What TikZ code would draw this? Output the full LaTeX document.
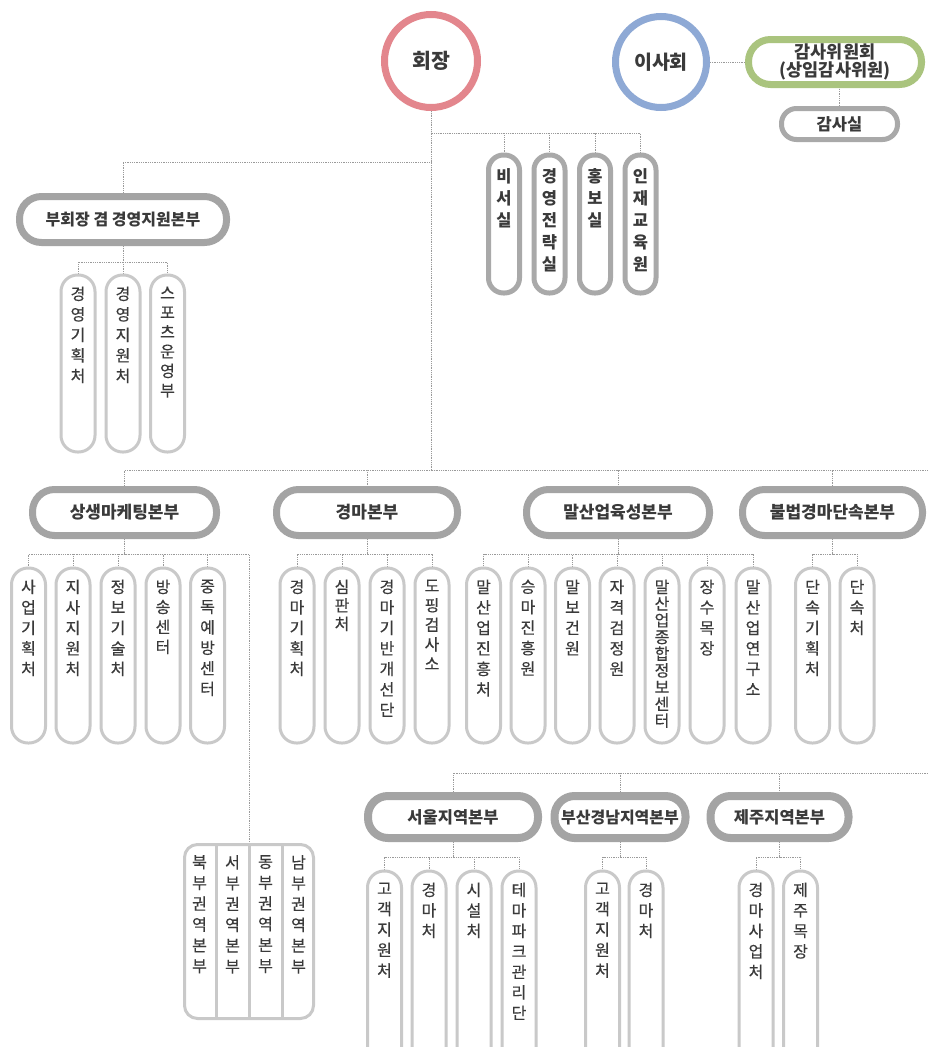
\documentclass[tikz,border=0pt]{standalone}
\usepackage{fontspec}
\newfontfamily\kr{Noto Sans CJK KR}
\newfontfamily\krm[FakeBold=0.4]{Noto Sans CJK KR}
\usetikzlibrary{calc,backgrounds}

\definecolor{ceoRed}{HTML}{E3868D}
\definecolor{boardBlue}{HTML}{8EA9D5}
\definecolor{auditGreen}{HTML}{AAC47E}
\definecolor{headGray}{HTML}{A4A4A4}
\definecolor{pillGray}{HTML}{A9A9A9}
\definecolor{leafGray}{HTML}{C9C9C9}
\definecolor{lineGray}{HTML}{9A9A9A}
\definecolor{ink}{HTML}{3A3A3A}

\tikzset{
  conn/.style={draw=lineGray, line width=0.8pt, dash pattern=on 0.9pt off 0.9pt},
  htxt/.style={text=ink, font=\kr\bfseries\fontsize{17}{19}\selectfont},
  ceo/.style={circle, draw=ceoRed, line width=7pt, fill=white, minimum size=93pt, inner sep=0pt, text=ink, font=\kr\bfseries\fontsize{20.5}{23}\selectfont},
  board/.style={circle, draw=boardBlue, line width=7pt, fill=white, minimum size=91pt, inner sep=0pt, text=ink, font=\kr\bfseries\fontsize{19.5}{22}\selectfont},
  audit/.style={rectangle, draw=auditGreen, line width=7pt, fill=white, rounded corners=22pt, minimum width=173pt, minimum height=45pt, inner sep=0pt, align=center, text=ink, font=\kr\bfseries\fontsize{17.5}{18}\selectfont},
  office/.style={rectangle, draw=pillGray, line width=5pt, fill=white, rounded corners=15pt, minimum width=116pt, minimum height=31pt, inner sep=0pt, htxt, font=\kr\bfseries\fontsize{16.5}{18}\selectfont},
  head/.style={rectangle, draw=headGray, line width=7pt, fill=white, rounded corners=22pt, minimum height=46pt, inner sep=0pt, htxt},
  region/.style={rectangle, draw=headGray, line width=8pt, fill=white, rounded corners=20pt, minimum height=42pt, inner sep=0pt, htxt, font=\kr\bfseries\fontsize{16.5}{18}\selectfont},
  pill/.style={rectangle, draw=pillGray, line width=5pt, fill=white, rounded corners=15pt, minimum width=31pt, minimum height=138pt, inner sep=0pt, anchor=north},
  leaf/.style={rectangle, draw=leafGray, line width=3pt, fill=white, rounded corners=16.5pt, minimum width=34pt, minimum height=175pt, inner sep=0pt, anchor=north},
  leafA/.style={leaf, minimum height=177pt},
  leafR/.style={leaf, minimum height=200pt},
  vtxt/.style={anchor=north, align=center, inner sep=0pt, text=ink, font=\krm\fontsize{16}{20.5}\selectfont},
  vbold/.style={anchor=north, align=center, inner sep=0pt, text=ink, font=\kr\bfseries\fontsize{16.5}{22}\selectfont},
}

% vertical pill: style, name, x, north y, text style, text
\newcommand\colbox[6]{%
  \node[#1] (#2) at (#3,#4) {};
  \node[#5] (#2-t) at ([yshift=-13pt]#2.north) {#6};}

\begin{document}
\begin{tikzpicture}[x=1pt,y=-1pt]
\useasboundingbox (0,0) rectangle (928,1047);
\clip (0,0) rectangle (928,1047);

% bar levels
\coordinate (barA) at (0,133);
\coordinate (barB) at (0,162);
\coordinate (barM) at (0,470);
\coordinate (barVP) at (0,262);
\coordinate (barL) at (0,554);
\coordinate (barRC) at (0,857);
\coordinate (endM) at (928,470);
\coordinate (endR) at (928,773);

% top level
\node[ceo] (ceo) at (431,61) {회장};
\node[board] (board) at (661,62) {이사회};
\node[audit] (audit) at (835,62) {감사위원회\\(상임감사위원)};
\node[office] (aoff) at (839.5,124) {감사실};

% staff offices
\node[pill] (sec) at (504,152.5) {};
\node[vbold] (sec-t) at ([yshift=-16pt]sec.north) {비\\서\\실};
\node[pill] (strat) at (549.5,152.5) {};
\node[vbold] (strat-t) at ([yshift=-16pt]strat.north) {경\\영\\전\\략\\실};
\node[pill] (pr) at (595,152.5) {};
\node[vbold] (pr-t) at ([yshift=-16pt]pr.north) {홍\\보\\실};
\node[pill] (edu) at (640.5,152.5) {};
\node[vbold] (edu-t) at ([yshift=-16pt]edu.north) {인\\재\\교\\육\\원};

% vice chairman
\node[head, minimum width=207pt, font=\kr\bfseries\fontsize{16}{18}\selectfont] (vp) at (123,219.5) {부회장 겸 경영지원본부};
\colbox{leafA}{vp1}{78}{273.5}{vtxt}{경\\영\\기\\획\\처}
\colbox{leafA}{vp2}{123}{273.5}{vtxt}{경\\영\\지\\원\\처}
\colbox{leafA}{vp3}{167.5}{273.5}{vtxt, font=\krm\fontsize{16}{19.5}\selectfont}{스\\포\\츠\\운\\영\\부}

% divisions
\node[head, minimum width=184pt] (sm) at (124.5,512.5) {상생마케팅본부};
\node[head, minimum width=181pt] (km) at (367,512.5) {경마본부};
\node[head, minimum width=183pt] (ms) at (618,512.5) {말산업육성본부};
\node[head, minimum width=180pt] (ib) at (832.5,512.5) {불법경마단속본부};

\colbox{leaf}{sm1}{28.5}{566.5}{vtxt}{사\\업\\기\\획\\처}
\colbox{leaf}{sm2}{73}{566.5}{vtxt}{지\\사\\지\\원\\처}
\colbox{leaf}{sm3}{118}{566.5}{vtxt}{정\\보\\기\\술\\처}
\colbox{leaf}{sm4}{163}{566.5}{vtxt, font=\krm\fontsize{16}{20}\selectfont}{방\\송\\센\\터}
\colbox{leaf}{sm5}{207.5}{566.5}{vtxt}{중\\독\\예\\방\\센\\터}

\colbox{leaf}{km1}{297}{566.5}{vtxt}{경\\마\\기\\획\\처}
\colbox{leaf}{km2}{342}{566.5}{vtxt, font=\krm\fontsize{16}{18.5}\selectfont}{심\\판\\처}
\colbox{leaf}{km3}{387}{566.5}{vtxt}{경\\마\\기\\반\\개\\선\\단}
\colbox{leaf}{km4}{432}{566.5}{vtxt, font=\krm\fontsize{16}{19.5}\selectfont}{도\\핑\\검\\사\\소}

\colbox{leaf}{ms1}{483.5}{566.5}{vtxt}{말\\산\\업\\진\\흥\\처}
\colbox{leaf}{ms2}{528}{566.5}{vtxt}{승\\마\\진\\흥\\원}
\colbox{leaf}{ms3}{572.5}{566.5}{vtxt}{말\\보\\건\\원}
\colbox{leaf}{ms4}{617}{566.5}{vtxt}{자\\격\\검\\정\\원}
\colbox{leaf}{ms5}{662}{566.5}{vtxt, font=\krm\fontsize{16}{16.7}\selectfont}{말\\산\\업\\종\\합\\정\\보\\센\\터}
\colbox{leaf}{ms6}{707}{566.5}{vtxt}{장\\수\\목\\장}
\colbox{leaf}{ms7}{753}{566.5}{vtxt}{말\\산\\업\\연\\구\\소}

\colbox{leaf}{ib1}{812.5}{566.5}{vtxt}{단\\속\\기\\획\\처}
\colbox{leaf}{ib2}{857}{566.5}{vtxt}{단\\속\\처}

% regional headquarters under the marketing division
\node[rectangle, draw=leafGray, line width=3pt, fill=white, rounded corners=13pt, minimum width=129pt, minimum height=174pt, inner sep=0pt] (kw) at (249,931.5) {};
\foreach \k in {1,2,3}
  \draw[leafGray, line width=3pt] ($(kw.north west)!\k/4!(kw.north east)$) -- ($(kw.south west)!\k/4!(kw.south east)$);
\foreach \k/\t in {1/북,2/서,3/동,4/남}
  \node[vtxt, font=\krm\fontsize{16}{20.8}\selectfont] (kw\k) at ($(kw.north west)!{(2*\k-1)/8}!(kw.north east)+(0,12)$) {\t\\부\\권\\역\\본\\부};

% regional divisions
\node[region, minimum width=170pt] (seoul) at (453,817) {서울지역본부};
\node[region, minimum width=131pt, font=\kr\bfseries\fontsize{16}{18}\selectfont] (busan) at (620,817) {부산경남지역본부};
\node[region, minimum width=138pt] (jeju) at (779.5,817) {제주지역본부};

\colbox{leafR}{se1}{384.5}{869.5}{vtxt}{고\\객\\지\\원\\처}
\colbox{leafR}{se2}{429}{869.5}{vtxt}{경\\마\\처}
\colbox{leafR}{se3}{474}{869.5}{vtxt}{시\\설\\처}
\colbox{leafR}{se4}{519}{869.5}{vtxt}{테\\마\\파\\크\\관\\리\\단}
\colbox{leafR}{bu1}{602.5}{869.5}{vtxt}{고\\객\\지\\원\\처}
\colbox{leafR}{bu2}{646}{869.5}{vtxt}{경\\마\\처}
\colbox{leafR}{je1}{756}{869.5}{vtxt}{경\\마\\사\\업\\처}
\colbox{leafR}{je2}{800.5}{869.5}{vtxt}{제\\주\\목\\장}

% connectors
\begin{scope}[on background layer]
  \fill[white] (0,0) rectangle (928,1047);
  \draw[conn] (board.east) -- (board.east -| audit.west);
  \draw[conn] (aoff.north) -- (aoff.north |- audit.south);
  \foreach \n in {sec,strat,pr,edu}
    \draw[conn] (ceo.south) |- (\n.north |- barA) -- (\n.north);
  \draw[conn] (ceo.south) |- (vp.north |- barB) -- (vp.north);
  \draw[conn] (ceo.south) |- (endM);
  \foreach \n in {sm,km,ms,ib}
    \draw[conn] (ceo.south) |- (\n.north |- barM) -- (\n.north);
  \foreach \n in {vp1,vp2,vp3}
    \draw[conn] (vp.south) |- (\n.north |- barVP) -- (\n.north);
  \foreach \n in {sm1,sm2,sm3,sm4,sm5,kw}
    \draw[conn] (sm.south) |- (\n.north |- barL) -- (\n.north);
  \foreach \n in {km1,km2,km3,km4}
    \draw[conn] (km.south) |- (\n.north |- barL) -- (\n.north);
  \foreach \n in {ms1,ms2,ms3,ms4,ms5,ms6,ms7}
    \draw[conn] (ms.south) |- (\n.north |- barL) -- (\n.north);
  \foreach \n in {ib1,ib2}
    \draw[conn] (ib.south) |- (\n.north |- barL) -- (\n.north);
  \foreach \n in {seoul,busan,jeju}
    \draw[conn] (endR) -| (\n.north);
  \foreach \n in {se1,se2,se3,se4}
    \draw[conn] (seoul.south) |- (\n.north |- barRC) -- (\n.north);
  \foreach \n in {bu1,bu2}
    \draw[conn] (busan.south) |- (\n.north |- barRC) -- (\n.north);
  \foreach \n in {je1,je2}
    \draw[conn] (jeju.south) |- (\n.north |- barRC) -- (\n.north);
\end{scope}
\end{tikzpicture}
\end{document}
